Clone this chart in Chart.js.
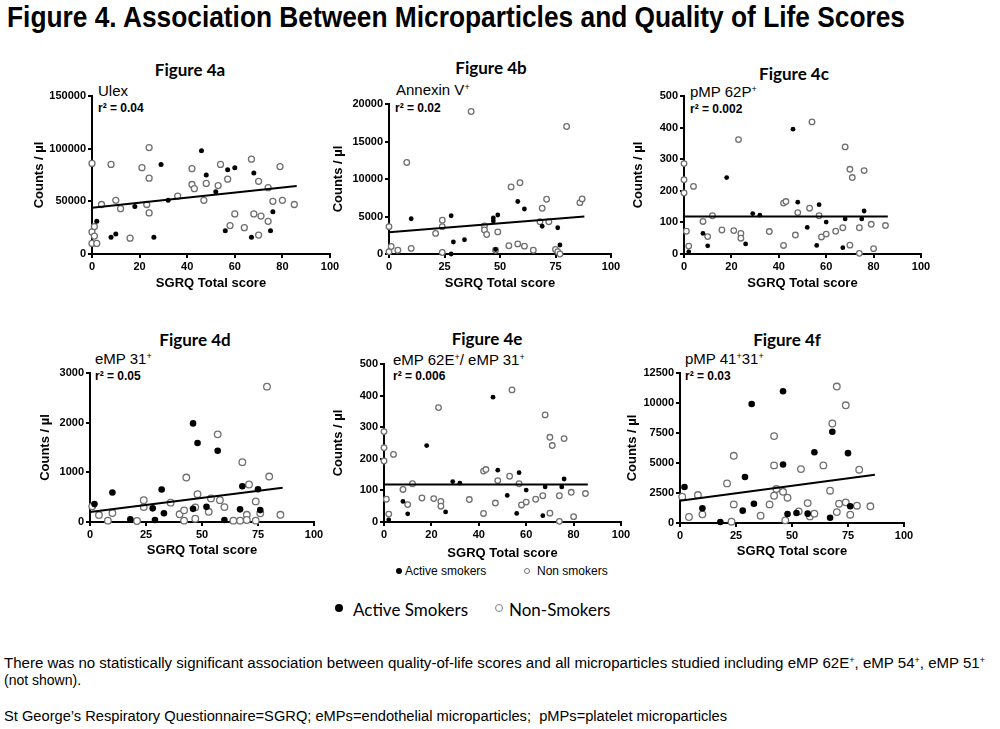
<!DOCTYPE html>
<html><head><meta charset="utf-8">
<script src="https://cdn.jsdelivr.net/npm/chart.js@4.4.1/dist/chart.umd.min.js"></script>
<style>
html,body{margin:0;padding:0;background:#fff;}
body{width:1000px;height:729px;position:relative;overflow:hidden;font-family:"Liberation Sans",Arial,sans-serif;color:#000;}
.t{position:absolute;white-space:nowrap;line-height:1;}
.fit{transform-origin:0 0;display:inline-block;}
.ptitle{font:bold 17px Lato,"Liberation Sans",sans-serif;transform:translateX(-50%);}
.series{font-size:15px;}
.r2{font-size:12px;font-weight:bold;}
.sp{font-size:0.6em;vertical-align:0.55em;line-height:0;}
.dot{position:absolute;border-radius:50%;box-sizing:border-box;}
canvas{position:absolute;}
</style></head><body>
<div class="t fit" data-w="898" style="left:7px;top:3px;font-weight:bold;font-size:29px;font-family:'Liberation Sans Narrow','Liberation Sans',Arial;">Figure 4. Association Between Microparticles and Quality of Life Scores</div>

<div class="t ptitle" style="left:190px;top:59px;">Figure 4a</div>
<div class="t ptitle" style="left:491px;top:57px;">Figure 4b</div>
<div class="t ptitle" style="left:794px;top:63px;">Figure 4c</div>
<div class="t ptitle" style="left:195px;top:329px;">Figure 4d</div>
<div class="t ptitle" style="left:487px;top:328px;">Figure 4e</div>
<div class="t ptitle" style="left:787px;top:329px;">Figure 4f</div>

<div class="t series" style="left:98px;top:83px;">Ulex</div>
<div class="t r2" style="left:98px;top:102px;">r² = 0.04</div>
<div class="t series" style="left:396px;top:82px;">Annexin V<span class="sp">+</span></div>
<div class="t r2" style="left:395px;top:102px;">r² = 0.02</div>
<div class="t series" style="left:690px;top:84px;">pMP 62P<span class="sp">+</span></div>
<div class="t r2" style="left:690px;top:103px;">r² = 0.002</div>
<div class="t series" style="left:95px;top:351px;">eMP 31<span class="sp">+</span></div>
<div class="t r2" style="left:95px;top:370px;">r² = 0.05</div>
<div class="t series" style="left:393px;top:352px;">eMP 62E<span class="sp">+</span>/ eMP 31<span class="sp">+</span></div>
<div class="t r2" style="left:393px;top:370px;">r² = 0.006</div>
<div class="t series" style="left:685px;top:351px;">pMP 41<span class="sp">+</span>31<span class="sp">+</span></div>
<div class="t r2" style="left:685px;top:370px;">r² = 0.03</div>

<div class="dot" style="left:396px;top:568px;width:6px;height:6px;background:#000;"></div>
<div class="t" style="left:405px;top:565px;font-size:12px;">Active smokers</div>
<div class="dot" style="left:524px;top:568px;width:6px;height:6px;border:1px solid #707070;"></div>
<div class="t" style="left:537px;top:565px;font-size:12px;">Non smokers</div>

<div class="dot" style="left:335px;top:604px;width:8px;height:8px;background:#000;"></div>
<div class="t" style="left:353px;top:599px;font:17px Lato,'Liberation Sans',sans-serif;">Active Smokers</div>
<div class="dot" style="left:495px;top:604px;width:8px;height:8px;border:1px solid #808080;"></div>
<div class="t" style="left:509px;top:599px;font:17px Lato,'Liberation Sans',sans-serif;">Non-Smokers</div>

<div class="t fit" data-w="981" style="left:4px;top:656px;font-size:14px;font-family:'Liberation Sans Narrow','Liberation Sans',Arial;">There was no statistically significant association between quality-of-life scores and all microparticles studied including eMP 62E<span class="sp">+</span>, eMP 54<span class="sp">+</span>, eMP 51<span class="sp">+</span></div>
<div class="t" style="left:4px;top:673px;font-size:14px;font-family:'Liberation Sans Narrow','Liberation Sans',Arial;">(not shown).</div>
<div class="t fit" data-w="723" style="left:4px;top:709px;font-size:14px;font-family:'Liberation Sans Narrow','Liberation Sans',Arial;">St George’s Respiratory Questionnaire=SGRQ; eMPs=endothelial microparticles;&nbsp; pMPs=platelet microparticles</div>

<script>
// ---------- DATA (x = SGRQ Total score, y = Counts / µl) ----------
const xTitle = "SGRQ Total score";
const yTitle = "Counts / µl";

const ulexActive = [[2,31000],[8,16000],[10,19000],[18,45000],[26,16000],[29,85000],[32,51000],[46,98000],[48,75000],[52,59000],[56,22000],[57,80000],[60,82000],[67,16000],[68,77000],[75,22000],[76,40000]];
const ulexNon = [[0,86000],[0,21000],[0,10000],[1,26000],[1,17000],[2,10000],[4,47000],[8,85000],[10,51000],[12,43000],[16,15000],[21,82000],[23,47000],[24,101000],[24,72000],[24,39000],[36,55000],[42,81000],[42,66000],[43,62000],[47,51000],[48,67000],[53,65000],[54,85000],[57,71000],[58,27000],[60,38000],[64,25000],[67,90000],[68,38000],[70,18000],[70,69000],[71,36000],[74,31000],[74,63000],[76,50000],[79,83000],[80,51000],[85,47000]];
const ulexFit = [[0,44000],[86,64500]];

const annexinActive = [[10,4700],[28,5100],[29,1600],[34,1900],[28,0],[47,4800],[47,4400],[49,5200],[48,600],[58,7000],[61,6000],[69,3700],[76,3500],[77,1200]];
const annexinNon = [[0,3650],[0,300],[1,1000],[4,500],[8,12200],[10,750],[21,2750],[24,200],[24,4500],[24,3650],[37,19000],[43,3750],[43,3200],[44,2600],[48,500],[49,2950],[54,1100],[55,8950],[58,1350],[59,9500],[61,1050],[65,500],[68,4300],[69,6100],[71,7300],[72,4300],[75,600],[76,300],[77,0],[80,17000],[86,6850],[87,7350]];
const annexinFit = [[0,2900],[88,5000]];

const p62Active = [[2,7],[8,65],[10,26],[18,242],[26,32],[29,128],[32,123],[46,395],[48,164],[52,84],[56,27],[57,156],[60,101],[67,20],[68,111],[75,111],[76,136]];
const p62Non = [[0,286],[0,235],[0,193],[1,72],[2,25],[4,214],[8,103],[10,55],[12,121],[16,76],[21,74],[23,362],[24,65],[24,50],[36,71],[42,27],[42,161],[43,166],[47,60],[48,131],[53,145],[54,418],[57,121],[58,54],[60,63],[64,72],[67,83],[68,339],[70,28],[70,268],[71,242],[74,2],[74,83],[76,264],[79,94],[80,17],[85,90]];
const p62Fit = [[0,119],[86,119]];

const e31Active = [[2,360],[10,595],[18,55],[28,275],[29,40],[32,655],[33,175],[46,1985],[46,265],[48,1590],[52,305],[57,1435],[60,40],[67,255],[68,720],[75,660],[76,240]];
const e31Non = [[1,315],[4,140],[8,27],[10,180],[21,20],[24,440],[24,300],[36,390],[40,155],[42,235],[42,27],[43,895],[47,295],[47,65],[48,560],[53,205],[54,475],[57,1765],[58,440],[60,300],[64,27],[67,27],[68,1205],[70,145],[70,40],[71,755],[74,415],[74,27],[76,175],[79,2725],[80,915],[85,145]];
const e31Fit = [[0,200],[86,690]];

const e62e31Active = [[2,7],[8,65],[10,26],[18,242],[26,32],[29,128],[32,123],[46,395],[48,164],[52,84],[56,27],[57,156],[60,101],[67,20],[68,111],[75,111],[76,136]];
const e62e31Non = [[0,286],[0,235],[0,193],[1,72],[2,25],[4,214],[8,103],[10,55],[12,121],[16,76],[21,74],[23,362],[24,65],[24,50],[36,71],[42,27],[42,161],[43,166],[47,60],[48,131],[53,145],[54,418],[57,121],[58,54],[60,63],[64,72],[67,83],[68,339],[70,28],[70,268],[71,242],[74,2],[74,83],[76,264],[79,94],[80,17],[85,90]];
const e62e31Fit = [[0,119],[86,119]];

const p4131Active = [[2,3000],[10,1220],[18,80],[28,1030],[29,3830],[32,9920],[33,1610],[46,10980],[46,4880],[48,750],[52,830],[57,780],[60,5900],[67,440],[68,7600],[75,5820],[76,1390]];
const p4131Non = [[1,2190],[4,500],[8,2330],[10,720],[21,3300],[23,110],[24,5600],[24,1550],[36,610],[40,1550],[42,7240],[42,4800],[42,2270],[43,2830],[46,2600],[47,220],[48,2110],[53,970],[54,4490],[57,1660],[58,550],[60,780],[64,4800],[67,2690],[68,8290],[70,910],[70,11370],[71,1610],[74,9810],[74,1720],[76,690],[79,1440],[80,4440],[85,1390]];
const p4131Fit = [[0,1860],[87,4020]];

// axis ranges / tick steps
const xMax = 100;
const xSteps = [20, 25, 20, 25, 20, 25];
const yMaxes = [150000, 20000, 500, 3000, 500, 12500];
const ySteps = [50000, 5000, 100, 1000, 100, 2500];

// ---------- LAYOUT ----------
const panels = [
  {act: ulexActive, non: ulexNon, fit: ulexFit, L:92, T:96, R:330, B:254, yT:40, xT:283.5, rA:2.5, rN:3},
  {act: annexinActive, non: annexinNon, fit: annexinFit, L:389, T:104, R:611, B:254, yT:339, xT:283.5, rA:2.4, rN:2.8},
  {act: p62Active, non: p62Non, fit: p62Fit, L:684, T:96, R:921, B:254, yT:639, xT:283.5, rA:2.4, rN:2.8},
  {act: e31Active, non: e31Non, fit: e31Fit, L:90, T:373, R:314, B:522, yT:46, xT:550, rA:3.3, rN:3.3},
  {act: e62e31Active, non: e62e31Non, fit: e62e31Fit, L:384, T:364, R:621, B:522, yT:339, xT:553, rA:2.4, rN:2.8},
  {act: p4131Active, non: p4131Non, fit: p4131Fit, L:680, T:373, R:904, B:523, yT:633, xT:551, rA:3.3, rN:3.3}
];

const FONT = '"Liberation Sans", Arial, sans-serif';
const TFS = 13, LH = 1.2;
const toPts = a => a.map(([x, y]) => ({x, y}));

panels.forEach((p, i) => {
  const half = TFS * LH / 2;
  const cl = Math.round(p.yT - half);
  const ct = p.T - 12;
  const cr = p.R + 16;
  const cb = p.xT + half;
  const cv = document.createElement('canvas');
  cv.width = cr - cl; cv.height = Math.round(cb - ct);
  cv.style.left = cl + 'px'; cv.style.top = ct + 'px';
  cv.style.width = cv.width + 'px'; cv.style.height = cv.height + 'px';
  document.body.appendChild(cv);
  const yW = p.L - cl;
  const xH = cv.height + ct - p.B;
  const tickFont = {family: FONT, size: 11, weight: 'bold'};
  const axisCommon = {
    grid: {drawOnChartArea: false, drawTicks: true, tickLength: 4, color: '#000', lineWidth: 2},
    border: {display: true, color: '#000', width: 2},
    title: {display: true, color: '#000', font: {family: FONT, size: TFS, weight: 'bold', lineHeight: LH}, padding: 0}
  };
  new Chart(cv, {
    type: 'scatter',
    data: {datasets: [
      {label: 'Active smokers', data: toPts(p.act), pointRadius: p.rA, pointHoverRadius: p.rA, backgroundColor: '#000', borderColor: '#000', borderWidth: 0, clip: false, order: 0},
      {label: 'fit', data: toPts(p.fit), showLine: true, pointRadius: 0, borderColor: '#000', borderWidth: 2, clip: false, order: 1},
      {label: 'Non smokers', data: toPts(p.non), pointRadius: p.rN, pointHoverRadius: p.rN, backgroundColor: '#fff', borderColor: '#707070', borderWidth: 1.3, clip: false, order: 2}
    ]},
    options: {
      responsive: false, animation: false, devicePixelRatio: 1,
      layout: {padding: {left: 0, top: 12, right: 16, bottom: 0}},
      plugins: {legend: {display: false}, tooltip: {enabled: false}},
      scales: {
        x: Object.assign({}, axisCommon, {
          type: 'linear', min: 0, max: xMax,
          title: Object.assign({}, axisCommon.title, {text: xTitle}),
          ticks: {stepSize: xSteps[i], color: '#000', font: tickFont, padding: 2, maxRotation: 0, autoSkip: false, callback: v => String(v)},
          afterFit: s => { s.height = xH; }
        }),
        y: Object.assign({}, axisCommon, {
          type: 'linear', min: 0, max: yMaxes[i],
          title: Object.assign({}, axisCommon.title, {text: yTitle}),
          ticks: {stepSize: ySteps[i], color: '#000', font: tickFont, padding: 2, autoSkip: false, callback: v => String(v)},
          afterFit: s => { s.width = yW; }
        })
      }
    }
  });
});

// scale long text lines to their measured widths in the figure
document.querySelectorAll('.fit').forEach(el => {
  const w = el.getBoundingClientRect().width;
  const target = +el.dataset.w;
  el.style.transform = 'scaleX(' + (target / w) + ')';
});
</script>
</body></html>
